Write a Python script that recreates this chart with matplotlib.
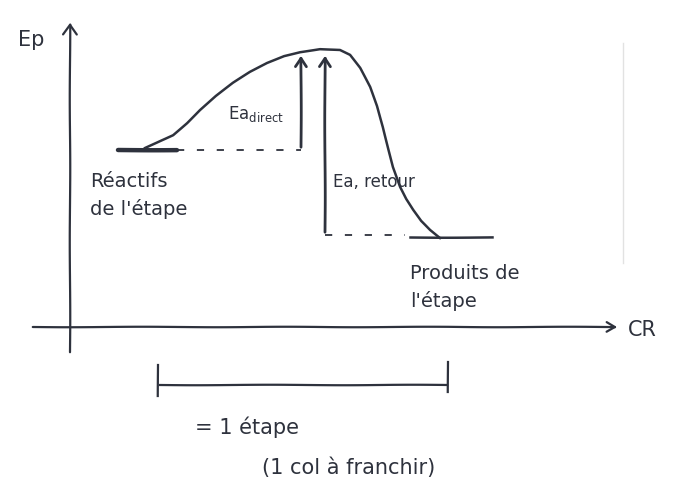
import matplotlib.pyplot as plt

# diagramme d'énergie potentielle, repère en pixels de l'image (y vers le bas)
ink = '#2e323d'

# courbe Ep = f(CR)
curve_x = [145, 160, 173, 187, 200, 216, 233, 250, 267, 284, 300, 320, 340,
           350, 360, 370, 377, 383, 388, 393, 400, 406, 413, 421, 430, 440]
curve_y = [148, 141, 135, 123, 110, 96, 83, 72, 63, 56, 52, 49, 50,
           55, 68, 87, 106, 127, 147, 167, 187, 199, 210, 221, 230, 238]

# niveaux
react_x = [118, 177]
react_level = 150
prod_x = [410, 492]
prod_level = 237
peak_level = 53

# flèches Ea
ea_direct_x = 301
ea_retour_x = 325

# accolade "1 étape"
step_x = [160, 447]
step_y = 385

plt.rcParams['path.sketch'] = (0.25, 150, 1.5)
fig = plt.figure(figsize=(6.75, 4.98), dpi=100)
ax = fig.add_axes([0, 0, 1, 1])
ax.set_xlim(0, 675)
ax.set_ylim(498, 0)
ax.axis('off')

# axes du repère
ax.annotate('', xy=(70, 20), xytext=(70, 355),
            arrowprops=dict(arrowstyle='->,head_length=0.7,head_width=0.5', color=ink, lw=1.6))
ax.annotate('', xy=(620, 327), xytext=(30, 327),
            arrowprops=dict(arrowstyle='->,head_length=0.6,head_width=0.35', color=ink, lw=1.6))
ax.text(18, 40, 'Ep', fontsize=15, color=ink, va='center', ha='left')
ax.text(628, 330, 'CR', fontsize=15, color=ink, va='center', ha='left')

# trait vertical très pâle à droite
pale, = ax.plot([623, 623], [43, 263], color='#e2e2e2', lw=1)
pale.set_sketch_params(None)

# courbe et niveaux
ax.plot(curve_x, curve_y, color=ink, lw=1.8)
ax.plot(react_x, [react_level, react_level], color=ink, lw=3.2, solid_capstyle='round')
ax.plot(prod_x, [prod_level, prod_level], color=ink, lw=1.8)

# pointillés
d1, = ax.plot([react_x[1], ea_direct_x], [react_level, react_level], color=ink, lw=1.3,
              ls=(0, (4, 7)))
d2, = ax.plot([ea_retour_x, prod_x[0] - 5], [prod_level - 2, prod_level - 2], color=ink, lw=1.3,
              ls=(0, (4, 7)))
d1.set_sketch_params(None)
d2.set_sketch_params(None)

# flèches Ea
arrow = dict(arrowstyle='->,head_length=0.6,head_width=0.4', color=ink, lw=2.0)
ax.annotate('', xy=(ea_direct_x, peak_level), xytext=(ea_direct_x, react_level), arrowprops=arrow)
ax.annotate('', xy=(ea_retour_x, peak_level), xytext=(ea_retour_x, prod_level - 2), arrowprops=arrow)

ax.text(228, 114, r'Ea$_{\mathrm{direct}}$', fontsize=12, color=ink, va='center')
ax.text(333, 182, 'Ea, retour', fontsize=12, color=ink, va='center')

# légendes des niveaux
ax.text(90, 195, 'Réactifs\nde l\'étape', fontsize=14, color=ink, va='center', linespacing=1.5)
ax.text(410, 287, 'Produits de\nl\'étape', fontsize=14, color=ink, va='center', linespacing=1.5)

# une étape
ax.plot(step_x, [step_y, step_y], color=ink, lw=1.6)
ax.plot([step_x[0] - 2, step_x[0] - 2], [365, 396], color=ink, lw=1.6)
ax.plot([step_x[1] + 1, step_x[1] + 1], [362, 392], color=ink, lw=1.6)
ax.text(195, 427, '= 1 étape', fontsize=15, color=ink, va='center')
ax.text(262, 468, '(1 col à franchir)', fontsize=15, color=ink, va='center')

fig.savefig('out.png', dpi=100, facecolor='white')
